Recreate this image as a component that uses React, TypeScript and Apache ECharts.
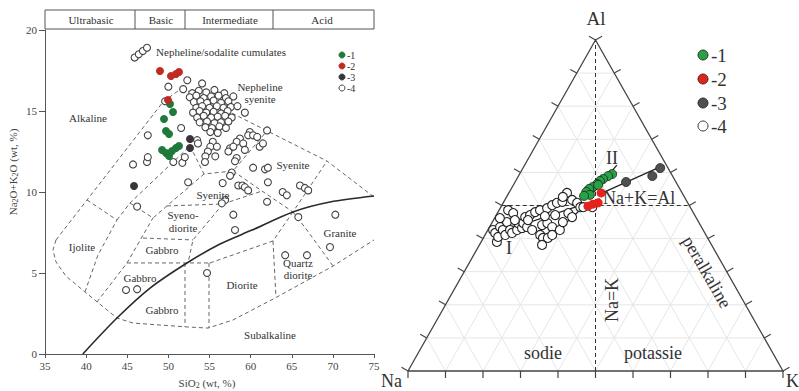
import React, { useEffect, useRef } from 'react';
import * as echarts from 'echarts';

const SERIF = '"Liberation Serif", "DejaVu Serif", serif';

// ---------- TAS diagram: [SiO2 wt%, Na2O+K2O wt%] ----------
const tasGroup1: number[][] = [
  [50.2, 15.43], [50.56, 14.94], [49.47, 14.51], [49.71, 13.77], [50.08, 13.58],
  [49.23, 12.59], [49.71, 12.41], [50.08, 12.22], [50.44, 12.53], [50.93, 12.72], [51.29, 12.84],
];
const tasGroup2: number[][] = [
  [48.98, 17.47], [50.32, 17.16], [50.93, 17.28], [51.29, 17.41], [49.95, 15.68],
];
const tasGroup3: number[][] = [[52.63, 13.27], [52.63, 12.72], [45.82, 10.37]];
const tasGroup4: number[][] = [
  [45.9, 18.3], [46.4, 18.5], [46.9, 18.7], [47.4, 18.9],
  [50.0, 16.5], [49.6, 15.6], [51.8, 16.35], [52.3, 16.9], [54.1, 16.7],
  [52.9, 16.1], [53.7, 16.25], [54.6, 16.15], [55.6, 16.3], [56.8, 16.1],
  [52.6, 15.85], [53.4, 15.95], [54.3, 15.8], [55.2, 15.9], [56.1, 15.95], [57.0, 15.8], [57.9, 15.9],
  [53.1, 15.55], [53.9, 15.6], [54.7, 15.5], [55.5, 15.65], [56.4, 15.5], [57.3, 15.6],
  [53.4, 15.2], [54.1, 15.3], [55.0, 15.2], [55.9, 15.3], [56.7, 15.2], [57.6, 15.25], [58.4, 15.3],
  [53.0, 14.9], [53.8, 15.0], [54.6, 14.9], [55.5, 14.95], [56.4, 14.85], [57.2, 15.0],
  [53.5, 14.6], [54.3, 14.7], [55.2, 14.6], [56.0, 14.65], [56.9, 14.7], [57.7, 14.6],
  [53.8, 14.3], [54.7, 14.35], [55.6, 14.25], [56.4, 14.3], [57.3, 14.35],
  [54.5, 14.0], [55.3, 13.95], [56.2, 14.05], [57.0, 13.95],
  [55.1, 13.7], [56.0, 13.65],
  [59.3, 14.9], [62.0, 13.8], [59.9, 13.7], [58.7, 13.3], [58.3, 13.1], [59.7, 13.5], [60.3, 13.5],
  [60.8, 13.4], [61.1, 12.8], [59.1, 13.0], [55.4, 13.1], [55.1, 12.8], [55.9, 12.8], [54.8, 12.5],
  [57.5, 12.7], [57.3, 12.5], [57.9, 12.8], [54.5, 12.2], [55.7, 12.2], [53.5, 13.2], [58.3, 12.1],
  [61.5, 13.0], [60.3, 11.5], [61.75, 11.4], [62.1, 11.5], [57.7, 11.2], [57.5, 11.0], [52.4, 10.6],
  [56.6, 10.55], [58.5, 10.4], [59.0, 10.4], [59.3, 10.3], [59.7, 10.1], [62.1, 10.6], [63.9, 10.0],
  [64.4, 9.8], [66.0, 10.4], [66.6, 10.25], [67.0, 10.1], [56.9, 9.5], [56.5, 9.3], [62.0, 9.4],
  [57.9, 8.6], [65.8, 8.45], [70.3, 8.6], [47.5, 13.5], [45.7, 11.7], [47.4, 11.85], [47.5, 12.15],
  [50.6, 11.85], [51.7, 11.8], [52.0, 12.15], [53.6, 13.0], [51.55, 13.95], [46.2, 9.1], [58.1, 7.65],
  [44.85, 3.95], [46.2, 4.0], [54.7, 5.0], [64.2, 6.1], [66.85, 6.1], [69.65, 6.6], [59.3, 12.6],
  [58.1, 11.9], [54.45, 11.85],
];

const alkalineCurve: number[][] = [
  [39.6, 0], [43.75, 2.22], [47.77, 4.07], [52.26, 5.62], [56.28, 6.79],
  [60.17, 7.65], [65.15, 8.77], [69.65, 9.38], [75, 9.75],
];

const fieldOuterLeft = [[36.34, 7.04], [49.35, 15.56], [51.66, 16.42]];
const fieldTop = [[51.66, 16.42], [69.29, 11.91], [75.0, 9.69]];
const fieldBottom = [[36.34, 7.04], [35.97, 6.42], [36.34, 5.68], [37.55, 4.81], [39.86, 3.83], [43.75, 2.22], [45.7, 1.91], [48.98, 1.79], [52.26, 1.67], [54.82, 1.6], [57.86, 2.1], [63.21, 3.52], [70.02, 5.43], [75.0, 7.04]];
const ijoliteTop = [[40.11, 9.51], [43.75, 8.27]];
const ijoliteRight = [[39.86, 3.83], [41.44, 6.11], [43.75, 8.27]];
const innerLine = [[43.75, 8.27], [45.33, 9.32], [52.63, 12.84]];
const nephSyeniteBase = [[52.63, 12.84], [54.33, 11.11], [57.86, 11.3], [61.99, 13.77]];
const vLine = [[45.33, 9.32], [48.13, 8.4], [54.33, 11.11]];
const syeniteRightBase = [[57.86, 11.3], [61.38, 10.06], [65.15, 8.77], [69.29, 11.91]];
const syeniteSmallBase = [[49.83, 9.14], [56.64, 9.26], [61.38, 10.06]];
const syenodioriteRight = [[56.64, 9.26], [52.99, 7.04], [52.39, 5.62]];
const gabbroTop = [[46.91, 7.16], [52.99, 7.04]];
const gabbroLeft = [[41.32, 3.21], [44.97, 5.62], [48.13, 8.4]];
const gabbroBase = [[44.97, 5.62], [55.06, 5.62]];
const dioriteTop = [[55.06, 5.62], [62.72, 6.98], [65.15, 8.77]];
const vert52 = [[52.02, 5.62], [52.02, 1.67]];
const vert55 = [[54.94, 5.62], [54.94, 1.6]];
const vert63 = [[62.72, 6.98], [63.08, 3.52]];
const graniteLeft = [[65.15, 8.77], [66.85, 7.65], [70.02, 5.43]];
const fieldLines = [
  fieldOuterLeft, fieldTop, fieldBottom, ijoliteTop, ijoliteRight, innerLine, nephSyeniteBase,
  vLine, syeniteRightBase, syeniteSmallBase, syenodioriteRight, gabbroTop, gabbroLeft, gabbroBase,
  dioriteTop, vert52, vert55, vert63, graniteLeft,
];

// ---------- Ternary Na-K-Al: [Na, K, Al] % ----------
const ternGroup1: number[][] = [
  [15.8, 24.7, 59.5], [17.2, 23.9, 58.9], [19.0, 23.0, 58.0], [20.1, 22.5, 57.4], [21.3, 22.2, 56.5],
  [22.9, 21.5, 55.6], [24.2, 20.8, 55.0], [25.4, 20.5, 54.1], [24.9, 21.9, 53.2], [26.6, 20.5, 52.9],
  [21.2, 22.6, 56.2],
];
const ternGroup2: number[][] = [[21.6, 24.6, 53.8], [27.1, 23.1, 49.8], [25.5, 24.1, 50.4], [23.9, 25.3, 50.8]];
const ternGroup3: number[][] = [[2.1, 36.6, 61.3], [5.4, 35.7, 58.9], [13.3, 29.6, 57.1]];
const ternGroup4: number[][] = [
  [56.8, 4.2, 39.0], [56.0, 1.4, 42.6], [55.9, 2.4, 41.7], [55.7, 3.8, 40.5], [53.7, 2.8, 43.5],
  [53.4, 4.0, 42.6], [53.5, 5.4, 41.1], [51.1, 3.9, 45.0], [49.0, 2.4, 48.6], [48.1, 4.2, 47.7],
  [51.5, 5.9, 42.6], [51.4, 6.9, 41.7], [49.6, 7.8, 42.6], [48.3, 7.0, 44.7], [48.0, 8.8, 43.2],
  [46.9, 8.4, 44.7], [45.5, 8.0, 46.5], [46.5, 10.0, 43.5], [43.9, 9.0, 47.1], [45.6, 11.8, 42.6],
  [42.1, 9.9, 48.0], [40.5, 10.9, 48.6], [44.2, 14.7, 41.1], [42.2, 13.7, 44.1], [43.9, 15.9, 40.2],
  [45.2, 16.7, 38.1], [38.3, 12.5, 49.2], [40.5, 14.8, 44.7], [42.6, 17.2, 40.2], [36.5, 13.4, 50.1],
  [39.8, 16.7, 43.5], [41.0, 17.9, 41.1], [34.9, 14.3, 50.8], [38.2, 19.2, 42.6], [33.3, 15.6, 51.1],
  [36.2, 18.8, 45.0], [30.7, 15.5, 53.8], [32.4, 15.0, 52.6], [33.4, 18.9, 47.7], [30.4, 17.9, 51.7],
  [33.0, 20.5, 46.5], [29.5, 19.7, 50.8], [29.3, 21.2, 49.5], [28.5, 22.0, 49.5], [26.1, 24.4, 49.5],
  [48.7, 5.7, 45.6], [45.2, 9.2, 45.6], [37.2, 15.7, 47.1], [40.1, 13.1, 46.8], [52.4, 1.4, 46.2],
];
const trendI = [[57.3, 1.6, 41.1], [22.8, 25.2, 52.0]];
const trendBranch = [[45.6, 16.6, 37.8], [27.7, 22.2, 50.1]];
const trendII = [[25.2, 22.2, 52.6], [13.2, 24.6, 62.2]];
const trendDark = [[22.0, 24.5, 53.5], [0.6, 37.2, 62.2]];

const headerCells = ['Ultrabasic', 'Basic', 'Intermediate', 'Acid'];
const legendLabels = ['-1', '-2', '-3', '-4'];

const toXY = (t: number[]) => {
  const s = t[0] + t[1] + t[2];
  return [(t[1] + t[2] / 2) / s, t[2] / s];
};

const txt = (text: string, x: number, y: number, size: number, extra: any = {}, rot = 0) => ({
  type: 'text', x, y, rotation: rot, silent: true, z: 50,
  style: { text, fontSize: size, fontFamily: SERIF, fill: '#333', align: 'center', verticalAlign: 'middle', ...extra },
});

function buildOption(): any {
  const subRich = {
    n: { fontSize: 11, fontFamily: SERIF, fill: '#444' },
    s: { fontSize: 8, fontFamily: SERIF, fill: '#444', verticalAlign: 'bottom', padding: [5, 0, 0, 0] },
  };
  const tasCols = ['#1f7a3a', '#bf2a22', '#3a3438'];
  const ternCols = ['#27a244', '#e5231b', '#505050'];

  const graphic: any[] = [
    { type: 'rect', shape: { x: 45, y: 10, width: 329, height: 19 }, style: { fill: 'none', stroke: '#555', lineWidth: 1 }, silent: true },
    ...[135, 185, 273].map((x) => ({ type: 'line', shape: { x1: x, y1: 10, x2: x, y2: 29 }, style: { stroke: '#555', lineWidth: 1 }, silent: true })),
    txt(headerCells[0], 91, 19.5, 11), txt(headerCells[1], 161, 19.5, 11),
    txt(headerCells[2], 230, 19.5, 11), txt(headerCells[3], 322, 19.5, 11),
    txt('Nepheline/sodalite cumulates', 221, 52, 11),
    txt('Nepheline\nsyenite', 260, 93, 11, { lineHeight: 12 }),
    txt('Alkaline', 88, 118, 11),
    txt('Syenite', 293, 165, 11),
    txt('Syenite', 213, 195, 11),
    txt('Syeno-\ndiorite', 183, 221, 11, { lineHeight: 13 }),
    txt('Ijolite', 82, 247, 11),
    txt('Gabbro', 162, 250, 11),
    txt('Granite', 340, 233, 11),
    txt('Gabbro', 140, 278, 11),
    txt('Quartz\ndiorite', 298, 269, 11, { lineHeight: 12 }),
    txt('Diorite', 242, 285, 11),
    txt('Gabbro', 162, 310, 11),
    txt('Subalkaline', 270, 335, 11),
    { type: 'text', x: 13, y: 172, rotation: Math.PI / 2, silent: true,
      style: { text: '{n|Na}{s|2}{n|O+K}{s|2}{n|O (wt, %)}', rich: subRich, align: 'center', verticalAlign: 'middle' } },
    { type: 'text', x: 207, y: 383, silent: true,
      style: { text: '{n|SiO}{s|2}{n| (wt, %)}', rich: subRich, align: 'center', verticalAlign: 'middle' } },
    // ternary labels
    txt('Al', 596, 18, 19),
    txt('Na', 381, 381, 18, { align: 'left' }),
    txt('K', 786, 381, 18, { align: 'left' }),
    txt('II', 612, 158, 18),
    txt('I', 509, 248, 18),
    txt('Na+K=Al', 603, 198, 18, { align: 'left' }),
    txt('sodie', 543, 353, 18),
    txt('potassie', 653, 353, 18),
    txt('Na=K', 612, 300, 18, {}, Math.PI / 2),
    txt('peralkaline', 707, 272, 18, {}, -Math.PI / 3),
  ];
  // legends
  legendLabels.forEach((lab, i) => {
    const y = [55, 66, 77, 88][i];
    const open = i === 3;
    graphic.push({ type: 'circle', shape: { cx: 342, cy: y, r: 3 }, silent: true,
      style: { fill: open ? '#fff' : tasCols[i], stroke: open ? '#444' : tasCols[i], lineWidth: 1 } });
    graphic.push(txt(lab, 347, y, 10, { align: 'left' }));
    const ty = [55, 79, 103, 126][i];
    graphic.push({ type: 'circle', shape: { cx: 703, cy: ty, r: 5 }, silent: true,
      style: { fill: open ? '#fff' : ternCols[i], stroke: '#222', lineWidth: 0.9 } });
    graphic.push(txt(lab, 711, ty, 19, { align: 'left' }));
  });

  const series: any[] = [];
  fieldLines.forEach((pts) => series.push({
    type: 'line', xAxisIndex: 0, yAxisIndex: 0, data: pts, symbol: 'none', silent: true, z: 2,
    lineStyle: { color: '#666', width: 1, type: [4, 3] },
  }));
  series.push({
    type: 'line', xAxisIndex: 0, yAxisIndex: 0, data: alkalineCurve, symbol: 'none', smooth: 0.3, silent: true, z: 3,
    lineStyle: { color: '#2a2a2a', width: 1.6 },
  });
  series.push({ type: 'scatter', xAxisIndex: 0, yAxisIndex: 0, data: tasGroup4, symbolSize: 7, z: 4,
    itemStyle: { color: '#fff', borderColor: '#444', borderWidth: 1.1, opacity: 1 } });
  [tasGroup1, tasGroup2, tasGroup3].forEach((d, i) => series.push({
    type: 'scatter', xAxisIndex: 0, yAxisIndex: 0, data: d, symbolSize: 8, z: 5,
    itemStyle: { color: tasCols[i], opacity: 1 },
  }));

  // ternary frame
  series.push({
    type: 'custom', xAxisIndex: 1, yAxisIndex: 1, data: [[0, 0]], silent: true, z: 1,
    renderItem: (_p: any, api: any) => {
      const c = (na: number, k: number, al: number) => api.coord(toXY([na, k, al]));
      const kids: any[] = [];
      const seg = (a: number[], b: number[], style: any) =>
        kids.push({ type: 'line', shape: { x1: a[0], y1: a[1], x2: b[0], y2: b[1] }, style });
      const gs = { stroke: '#e6e6e6', lineWidth: 1 };
      for (let i = 10; i < 100; i += 10) {
        seg(c(100 - i, 0, i), c(0, 100 - i, i), gs);
        seg(c(100 - i, i, 0), c(0, i, 100 - i), gs);
        seg(c(i, 100 - i, 0), c(i, 0, 100 - i), gs);
      }
      const ds = { stroke: '#333', lineWidth: 1, lineDash: [4, 3] };
      seg(c(50, 50, 0), c(0, 0, 100), ds);
      seg(c(50, 0, 50), c(0, 50, 50), ds);
      kids.push({ type: 'polyline', shape: { points: [c(100, 0, 0), c(0, 100, 0), c(0, 0, 100), c(100, 0, 0)] },
        style: { fill: 'none', stroke: '#444', lineWidth: 1.3 } });
      const tk = { stroke: '#444', lineWidth: 1.2 };
      for (let i = 0; i <= 100; i += 10) {
        const b = c(100 - i, i, 0); seg(b, [b[0], b[1] + 7], tk);
        const l = c(100 - i, 0, i); seg(l, [l[0] - 6.5, l[1] - 3.7], tk);
        const r = c(0, 100 - i, i); seg(r, [r[0] + 6.5, r[1] - 3.7], tk);
      }
      return { type: 'group', children: kids };
    },
  });
  [trendI, trendBranch, trendII, trendDark].forEach((t) => series.push({
    type: 'line', xAxisIndex: 1, yAxisIndex: 1, data: t.map(toXY), symbol: 'none', silent: true, z: 3,
    lineStyle: { color: '#222', width: 1.3 },
  }));
  series.push({ type: 'scatter', xAxisIndex: 1, yAxisIndex: 1, data: ternGroup4.map(toXY), symbolSize: 9, z: 4,
    itemStyle: { color: '#fff', borderColor: '#222', borderWidth: 1.1, opacity: 1 } });
  [ternGroup1, ternGroup2, ternGroup3].forEach((d, i) => series.push({
    type: 'scatter', xAxisIndex: 1, yAxisIndex: 1, data: d.map(toXY), symbolSize: 9, z: 5,
    itemStyle: { color: ternCols[i], borderColor: '#222', borderWidth: i === 1 ? 0 : 0.8, opacity: 1 },
  }));

  const axisLab = { color: '#444', fontFamily: SERIF, fontSize: 11 };
  return {
    animation: false,
    backgroundColor: '#fff',
    grid: [
      { left: 45, top: 30, width: 329, height: 324 },
      { left: 408, top: 40, width: 375, height: 331 },
    ],
    xAxis: [
      { type: 'value', gridIndex: 0, min: 35, max: 75, interval: 5,
        axisLine: { show: true, lineStyle: { color: '#555' } },
        axisTick: { show: true, length: 4, lineStyle: { color: '#555' } },
        axisLabel: { ...axisLab, margin: 6 }, splitLine: { show: false } },
      { type: 'value', gridIndex: 1, min: 0, max: 1, show: false },
    ],
    yAxis: [
      { type: 'value', gridIndex: 0, min: 0, max: 20, interval: 5,
        axisLine: { show: true, lineStyle: { color: '#555' } },
        axisTick: { show: true, length: 6, lineStyle: { color: '#555' } },
        axisLabel: { ...axisLab, margin: 8 }, splitLine: { show: false } },
      { type: 'value', gridIndex: 1, min: 0, max: 1, show: false },
    ],
    graphic,
    series,
  };
}

export default function App() {
  const ref = useRef<HTMLDivElement>(null);
  useEffect(() => {
    const chart = echarts.init(ref.current as HTMLDivElement, null, { renderer: 'svg' });
    chart.setOption(buildOption());
    return () => chart.dispose();
  }, []);
  return (
    <div
      ref={ref}
      style={{ position: 'fixed', left: 0, top: 0, width: 799, height: 391, background: '#fff' }}
    />
  );
}
